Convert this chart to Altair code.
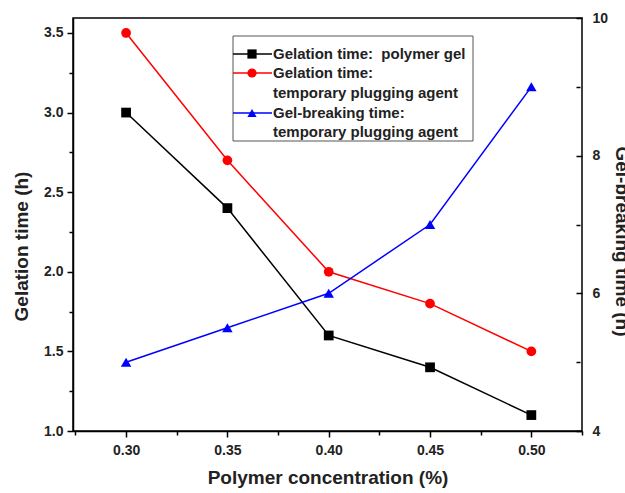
import altair as alt
import pandas as pd

conc = [0.30, 0.35, 0.40, 0.45, 0.50]
gel_polymer = [3.0, 2.4, 1.6, 1.4, 1.1]
gel_plug = [3.5, 2.7, 2.0, 1.8, 1.5]
break_plug = [5.0, 5.5, 6.0, 7.0, 9.0]

s1 = "Gelation time:  polymer gel"
s2 = "Gelation time: temporary plugging agent"
s3 = "Gel-breaking time: temporary plugging agent"

FONT = "Liberation Sans"
W, H = 509, 413

left_df = pd.DataFrame({
    "conc": conc + conc,
    "val": gel_polymer + gel_plug,
    "series": [s1] * len(conc) + [s2] * len(conc),
})
right_df = pd.DataFrame({"conc": conc, "val": break_plug, "series": [s3] * len(conc)})

xvals = [0.275 + 0.025 * i for i in range(11)]
xenc = alt.X("conc:Q",
             scale=alt.Scale(domain=[0.2738, 0.525], nice=False, zero=False),
             axis=alt.Axis(values=xvals, title="Polymer concentration (%)",
                           labelExpr="abs(datum.value*20 - round(datum.value*20)) < 0.01 && datum.value > 0.28 ? format(datum.value, '.2f') : ''",
                           tickSize={"condition": {"test": "abs(datum.value*20 - round(datum.value*20)) < 0.01", "value": 6}, "value": 4},
                           grid=False, titlePadding=11, labelPadding=6))

color_scale = alt.Scale(domain=[s1, s2, s3], range=["#000000", "#ff0000", "#0000ff"])

yl_vals = [1.0 + 0.25 * i for i in range(11)]
yl = alt.Y("val:Q", scale=alt.Scale(domain=[1.0, 3.594], nice=False, zero=False),
           axis=alt.Axis(values=yl_vals, title="Gelation time (h)", orient="left",
                         labelExpr="abs(datum.value*2 - round(datum.value*2)) < 0.01 ? format(datum.value, '.1f') : ''",
                         tickSize={"condition": {"test": "abs(datum.value*2 - round(datum.value*2)) < 0.01", "value": 6}, "value": 4},
                         grid=False, titlePadding=12, labelPadding=4, titleY=228))

left_base = alt.Chart(left_df).encode(
    x=xenc, y=yl,
    color=alt.Color("series:N", scale=color_scale, legend=None),
)
left_line = left_base.mark_line(strokeWidth=1.5)
left_pts = left_base.mark_point(filled=True, size=95, opacity=1).encode(
    shape=alt.Shape("series:N", scale=alt.Scale(domain=[s1, s2], range=["square", "circle"]), legend=None)
)

yr = alt.Y("val:Q", scale=alt.Scale(domain=[4, 10], nice=False, zero=False),
           axis=alt.Axis(values=list(range(4, 11)), title="Gel-breaking time (h)", orient="right",
                         labelExpr="datum.value % 2 == 0 ? datum.value : ''",
                         tickSize={"condition": {"test": "datum.value % 2 == 0", "value": 6}, "value": 4},
                         offset=-6, domain=False,
                         grid=False, titlePadding=4, labelPadding=10, titleY=223))
right_base = alt.Chart(right_df).encode(
    x=alt.X("conc:Q"), y=yr,
    color=alt.Color("series:N", scale=color_scale, legend=None),
)
right_line = right_base.mark_line(strokeWidth=1.5)
right_pts = right_base.mark_point(filled=True, size=110, opacity=1, shape="triangle-up")

left_layer = alt.layer(left_line, left_pts)
right_layer = alt.layer(right_line, right_pts)

# manual legend (pixel positions within plot area)
one = pd.DataFrame({"k": [0]})
lx0, lx1, lmx, ltx = 160, 199, 179, 200
legend_layers = [
    alt.Chart(one).mark_rect(fill="white", stroke="#555555", strokeWidth=1).encode(
        x=alt.value(160), x2=alt.value(400), y=alt.value(18), y2=alt.value(123)),
]
rows = [(36, "#000000", "square"),
        (55, "#ff0000", "circle"),
        (95, "#0000ff", "triangle-up")]
for yy, col, shp in rows:
    legend_layers.append(alt.Chart(one).mark_rule(color=col, strokeWidth=1.5).encode(
        x=alt.value(lx0), x2=alt.value(lx1), y=alt.value(yy)))
    legend_layers.append(alt.Chart(one).mark_point(filled=True, color=col, shape=shp, size=85, opacity=1).encode(
        x=alt.value(lmx), y=alt.value(yy)))
texts = [(36, "Gelation time:\u00a0 polymer gel"), (55, "Gelation time:"), (75, "temporary plugging agent"),
         (95, "Gel-breaking time:"), (114, "temporary plugging agent")]
for yy, t in texts:
    legend_layers.append(alt.Chart(pd.DataFrame({"t": [t]})).mark_text(
        align="left", baseline="middle", font=FONT, fontWeight="bold", fontSize=15, color="#222222").encode(
        x=alt.value(ltx), y=alt.value(yy), text="t:N"))

chart = alt.layer(left_layer, right_layer, *legend_layers).resolve_scale(
    y="independent", color="shared"
).properties(
    width=W, height=H,
    background="white",
    autosize=alt.AutoSizeParams(type="none"),
    padding={"left": 73, "top": 18, "right": 43, "bottom": 62},
).configure_view(stroke="#000000", strokeWidth=1.5).configure_axis(
    domainColor="#000000", domainWidth=1.5, tickColor="#000000", tickWidth=1.5,
    labelFont=FONT, labelFontWeight="bold", labelFontSize=14, labelColor="#222222",
    titleFont=FONT, titleFontWeight="bold", titleFontSize=19, titleColor="#222222",
)

chart.save("out.html", embed_options={"renderer": "svg", "actions": False})
